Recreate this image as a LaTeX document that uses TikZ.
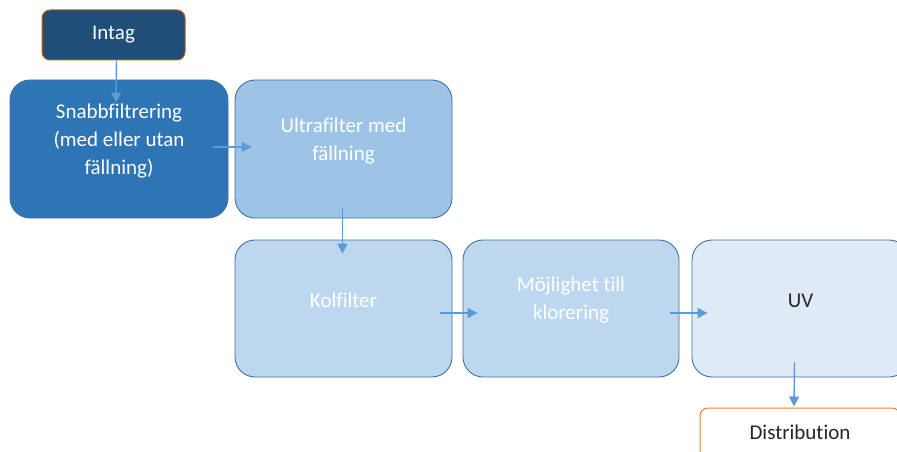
\documentclass[tikz,border=0pt]{standalone}
\usepackage{fontspec}
\setmainfont{Carlito}[Ligatures={NoCommon}]
\usetikzlibrary{arrows.meta,calc}
\definecolor{navy}{HTML}{1F4E79}
\definecolor{midblue}{HTML}{2E75B6}
\definecolor{lightblue}{HTML}{9DC3E6}
\definecolor{paleblue}{HTML}{BDD7EE}
\definecolor{faintblue}{HTML}{DEEBF7}
\definecolor{edgeblue}{HTML}{41719C}
\definecolor{arrowblue}{HTML}{5B9BD5}
\definecolor{rust}{HTML}{C55A11}
\definecolor{orangeedge}{HTML}{ED7D31}
\definecolor{ink}{HTML}{262626}
\tikzset{
  stage/.style={rectangle, rounded corners=20pt, draw=edgeblue, line width=0.9pt,
    minimum width=217pt, minimum height=137pt, inner sep=0pt},
  tag/.style={rectangle, rounded corners=8pt, line width=1pt,
    minimum width=143pt, minimum height=50pt, inner sep=0pt},
  label/.style={align=center, font=\fontsize{21}{28}\selectfont, inner sep=0pt},
  arr/.style={draw=arrowblue, line width=1.4pt,
    -{Triangle[length=10pt,width=10pt]}}
}
\begin{document}
\begin{tikzpicture}[x=1pt,y=-1pt]
  \useasboundingbox (0,0) rectangle (897,452);
  \clip (0,0) rectangle (897,452);

  % process boxes
  \node[tag, fill=navy, draw=rust] (intag) at (113.5,35) {};
  \node[label, white] (intagtxt) at (intag.center) {Intag};

  \node[stage, fill=midblue, minimum width=218pt, minimum height=138pt] (snab) at (119,149) {};
  \node[stage, fill=lightblue, minimum height=138pt] (ultra) at (343.5,149) {};
  \node[stage, fill=paleblue] (kol) at (343.5,308.5) {};
  \node[stage, fill=paleblue, minimum width=216pt] (moj) at (571,308.5) {};
  \node[stage, fill=faintblue] (uv) at (800.5,308.5) {};
  \node[tag, fill=white, draw=orangeedge, minimum width=200pt, minimum height=52pt] (dist) at (800,434) {};

  % labels, set slightly above the box centres
  \node[label, white] (snabtxt) at ($(snab.center)+(0,-8)$) {Snabbfiltrering\\(med eller utan\\fällning)};
  \node[label, white] (ultratxt) at ($(ultra.center)+(0,-8)$) {Ultrafilter med\\fällning};
  \node[label, white] (koltxt) at ($(kol.center)+(0,-8)$) {Kolfilter};
  \node[label, white] (mojtxt) at ($(moj.center)+(0,-8)$) {Möjlighet till\\klorering};
  \node[label, ink] (uvtxt) at ($(uv.center)+(0,-8)$) {UV};
  \node[label, ink] (disttxt) at ($(dist.center)+(0,-2)$) {Distribution};

  % flow arrows
  \draw[arr] ($(intag.south)+(3,0)$) -- ($(snab.north)+(-3,23)$);
  \draw[arr] ($(snab.east)+(-15,-2)$) -- ($(ultra.west)+(17,-2)$);
  \draw[arr] ($(ultra.south)+(-1,-10)$) -- ($(kol.north)+(-1,14)$);
  \draw[arr] ($(kol.east)+(-12,4.5)$) -- ($(moj.west)+(15,4.5)$);
  \draw[arr] ($(moj.east)+(-9,4.5)$) -- ($(uv.west)+(16,4.5)$);
  \draw[arr] ($(uv.south)+(-6,-15)$) -- ($(dist.north)+(-6,-1)$);
\end{tikzpicture}
\end{document}
